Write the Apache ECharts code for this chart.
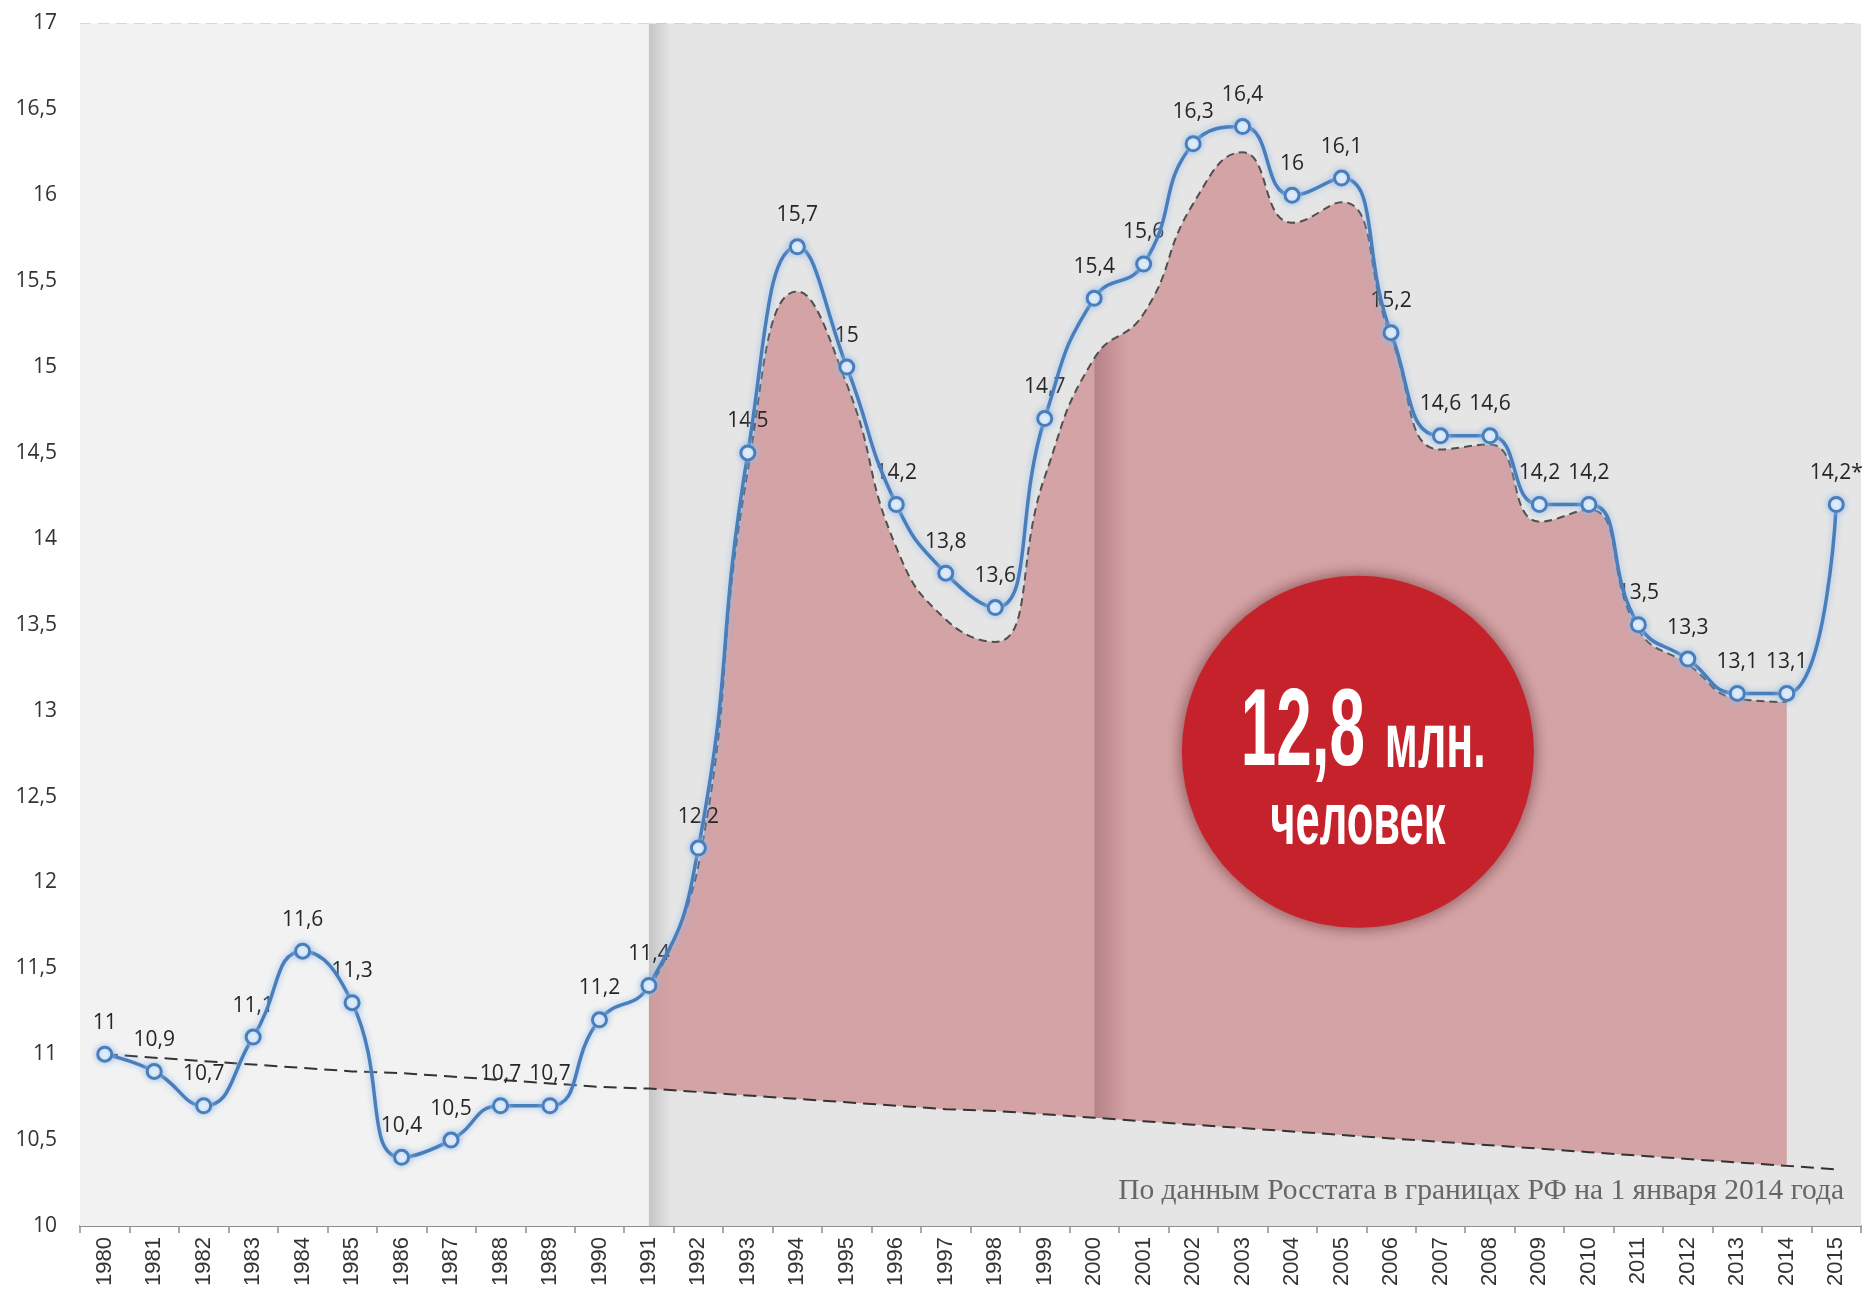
<!DOCTYPE html>
<html>
<head>
<meta charset="utf-8">
<style>
  html, body { margin: 0; padding: 0; background: #ffffff; }
  #chart { width: 1866px; height: 1293px; }
</style>
<script src="https://cdn.jsdelivr.net/npm/echarts@6/dist/echarts.min.js"></script>
</head>
<body>
<div id="chart"></div>
<script>
// Годы наблюдений
const years = ['1980', '1981', '1982', '1983', '1984', '1985', '1986', '1987', '1988', '1989',
  '1990', '1991', '1992', '1993', '1994', '1995', '1996', '1997', '1998', '1999',
  '2000', '2001', '2002', '2003', '2004', '2005', '2006', '2007', '2008', '2009',
  '2010', '2011', '2012', '2013', '2014', '2015'];

// Численность, млн человек
const population = [11, 10.9, 10.7, 11.1, 11.6, 11.3, 10.4, 10.5, 10.7, 10.7,
  11.2, 11.4, 12.2, 14.5, 15.7, 15, 14.2, 13.8, 13.6, 14.7,
  15.4, 15.6, 16.3, 16.4, 16, 16.1, 15.2, 14.6, 14.6, 14.2,
  14.2, 13.5, 13.3, 13.1, 13.1, 14.2];

// Линия тренда (штриховая снизу)
const trend = [11.00, 10.98, 10.96, 10.94, 10.92, 10.90, 10.89, 10.87, 10.85, 10.83,
  10.81, 10.80, 10.78, 10.76, 10.74, 10.72, 10.70, 10.68, 10.67, 10.65,
  10.63, 10.61, 10.59, 10.57, 10.55, 10.53, 10.51, 10.49, 10.47, 10.45,
  10.43, 10.41, 10.39, 10.37, 10.35, 10.33];

// Верхняя граница закрашенной области, 1991–2014
const envelopeStart = '1991';
const envelope = [11.38, 12.10, 14.40, 15.44, 14.90, 13.95, 13.53, 13.40, 14.36, 15.05,
  15.31, 15.95, 16.25, 15.84, 15.96, 15.17, 14.52, 14.55, 14.10, 14.17,
  13.47, 13.27, 13.07, 13.05];

// Ось Y
const yMin = 10, yMax = 17, yStep = 0.5;

// Предварительное значение помечается звёздочкой
const provisionalYear = '2015';
// Граница периодов фона и полоса тени внутри области
const periodSplitYear = '1991';
const shadeYear = '2000';

// Плашка с итоговым числом (центр в координатах графика)
const badgeAt = [25.33, 12.76];
const badgeValue = '12,8';
const badgeUnit = 'млн.';
const badgeWord = 'человек';
const sourceNote = 'По данным Росстата в границах РФ на 1 января 2014 года';

const fmt = v => String(v).replace('.', ',');

const startIdx = years.indexOf(envelopeStart);
const endIdx = startIdx + envelope.length - 1;
const baseData = years.map((y, i) => (i >= startIdx && i <= endIdx) ? trend[i] : '-');
const excessData = years.map((y, i) => (i >= startIdx && i <= endIdx)
  ? +(envelope[i - startIdx] - trend[i]).toFixed(3) : '-');

const splitIdx = years.indexOf(periodSplitYear);
const shadePos = (years.indexOf(shadeYear) - startIdx) / (endIdx - startIdx);

const pink = 'rgba(206,142,145,0.76)';
const pinkShade = 'rgba(172,112,118,0.85)';
const squeeze = 0.58;
const badgeFont = '"Liberation Sans", "DejaVu Sans", sans-serif';

function renderBadge(params, api) {
  const p = api.coord([api.value(0), api.value(1)]);
  const textStyle = (text, size, align) => ({
    text: text, x: 0, y: 0,
    font: 'bold ' + size + 'px ' + badgeFont,
    fill: '#ffffff', align: align, verticalAlign: 'middle'
  });
  const row1 = 21;   // базовая линия первой строки относительно центра
  const row2 = 97;   // базовая линия второй строки
  return {
    type: 'group',
    x: p[0], y: p[1],
    children: [
      {
        type: 'circle',
        shape: { cx: 0, cy: 0, r: 176 },
        style: { fill: '#c6222b', shadowBlur: 16, shadowColor: 'rgba(70,10,10,0.6)' }
      },
      { type: 'text', x: 7, y: row1 - 0.3465 * 110, scaleX: squeeze, style: textStyle(badgeValue, 110, 'right') },
      { type: 'text', x: 27, y: row1 - 0.3465 * 77, scaleX: squeeze, style: textStyle(badgeUnit, 77, 'left') },
      { type: 'text', x: 0, y: row2 - 0.3465 * 75, scaleX: squeeze, style: textStyle(badgeWord, 75, 'center') }
    ]
  };
}

const chart = echarts.init(document.getElementById('chart'), null, { renderer: 'canvas' });

const option = {
  animation: false,
  backgroundColor: '#ffffff',
  grid: { left: 80, right: 5, top: 23.5, bottom: 67, containLabel: false },
  xAxis: [{
    type: 'category',
    data: years,
    boundaryGap: true,
    axisLine: { show: true, lineStyle: { color: '#8e8e8e', width: 2 } },
    axisTick: { show: true, interval: 0, length: 7, lineStyle: { color: '#8e8e8e', width: 1.5 } },
    axisLabel: {
      interval: 0, rotate: 90, margin: 11,
      fontFamily: 'Liberation Sans', fontSize: 22, color: '#333333'
    },
    splitLine: { show: false }
  }, {
    type: 'value',
    min: -0.5, max: years.length - 0.5,
    show: false
  }],
  yAxis: {
    type: 'value',
    min: yMin, max: yMax, interval: yStep,
    axisLine: { show: false },
    axisTick: { show: false },
    axisLabel: {
      margin: 23, fontFamily: 'Open Sans', fontSize: 21, color: '#333333',
      formatter: v => fmt(v)
    },
    splitLine: { show: true, lineStyle: { color: '#ababab', width: 1.5, type: [11, 7] } }
  },
  series: [
    {
      // фон двух периодов и тень на их границе
      type: 'line',
      xAxisIndex: 1,
      data: [[0, yMin]],
      symbol: 'none',
      lineStyle: { opacity: 0 },
      silent: true,
      z: -1,
      markArea: {
        silent: true,
        data: [
          [{ xAxis: -0.5, yAxis: yMin, itemStyle: { color: '#f2f2f2' } }, { xAxis: splitIdx, yAxis: yMax }],
          [{ xAxis: splitIdx, yAxis: yMin, itemStyle: { color: '#e5e5e5' } }, { xAxis: years.length - 0.5, yAxis: yMax }],
          [{
            xAxis: splitIdx, yAxis: yMin,
            itemStyle: {
              color: new echarts.graphic.LinearGradient(0, 0, 1, 0, [
                { offset: 0, color: 'rgba(0,0,0,0.14)' },
                { offset: 1, color: 'rgba(0,0,0,0)' }
              ])
            }
          }, { xAxis: splitIdx + 0.45, yAxis: yMax }]
        ]
      }
    },
    {
      name: 'base',
      type: 'line',
      data: baseData,
      stack: 'gap',
      symbol: 'none',
      lineStyle: { opacity: 0 },
      silent: true,
      z: 2
    },
    {
      name: 'excess',
      type: 'line',
      data: excessData,
      stack: 'gap',
      smooth: 0.5,
      symbol: 'none',
      silent: true,
      lineStyle: { color: '#4f4f4f', width: 2, type: [8, 5] },
      areaStyle: {
        opacity: 1,
        color: new echarts.graphic.LinearGradient(0, 0, 1, 0, [
          { offset: 0, color: pink },
          { offset: shadePos, color: pink },
          { offset: shadePos + 0.0005, color: pinkShade },
          { offset: shadePos + 0.03, color: pink },
          { offset: 1, color: pink }
        ])
      },
      z: 3
    },
    {
      name: 'trend',
      type: 'line',
      data: trend,
      symbol: 'none',
      silent: true,
      lineStyle: { color: '#333333', width: 2, type: [13, 7] },
      z: 4
    },
    {
      name: 'labels',
      type: 'line',
      data: population,
      symbol: 'circle',
      symbolSize: 14,
      itemStyle: { color: 'transparent', borderWidth: 0 },
      lineStyle: { opacity: 0 },
      silent: true,
      label: {
        show: true,
        position: 'top',
        distance: 14,
        fontFamily: 'Open Sans',
        fontSize: 21,
        color: '#262626',
        formatter: p => fmt(p.value) + (p.name === provisionalYear ? '*' : '')
      },
      z: 5
    },
    {
      name: 'population',
      type: 'line',
      data: population,
      smooth: 0.5,
      symbol: 'circle',
      symbolSize: 14,
      showAllSymbol: true,
      lineStyle: {
        color: '#4a7ebb', width: 3.5,
        shadowColor: 'rgba(150,190,235,0.95)', shadowBlur: 6
      },
      itemStyle: {
        color: '#f4f9ff', borderColor: '#4a7ebb', borderWidth: 3,
        shadowColor: 'rgba(150,190,235,0.95)', shadowBlur: 6
      },
      z: 6
    },
    {
      name: 'badge',
      type: 'custom',
      xAxisIndex: 1,
      yAxisIndex: 0,
      data: [badgeAt],
      silent: true,
      clip: false,
      renderItem: renderBadge,
      z: 20
    }
  ],
  graphic: [{
    type: 'text',
    right: 22,
    top: 1176,
    silent: true,
    style: {
      text: sourceNote,
      font: '29.5px "Liberation Serif", "DejaVu Serif", serif',
      fill: '#666666'
    },
    z: 10
  }]
};

chart.setOption(option);
</script>
</body>
</html>
